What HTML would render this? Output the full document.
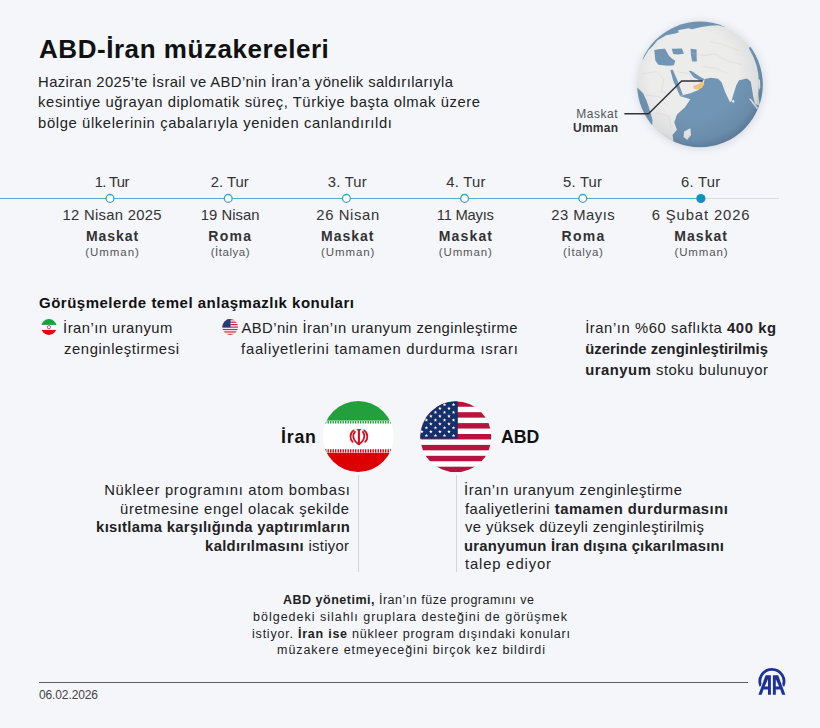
<!DOCTYPE html>
<html><head><meta charset="utf-8">
<style>
html,body{margin:0;padding:0;}
body{width:820px;height:728px;background:#f4f6fa;position:relative;overflow:hidden;font-family:"Liberation Sans",sans-serif;}
.t{position:absolute;white-space:nowrap;line-height:1;font-family:"Liberation Sans",sans-serif;}
.t b{font-weight:700;}
svg{position:absolute;overflow:visible;}
</style></head><body>
<!-- GLOBE -->
<div style="position:absolute;left:637.5px;top:22px;width:125px;height:125px;border-radius:50%;box-shadow:0 1px 7px 2px rgba(60,70,90,0.13);"></div>
<svg style="left:635px;top:20px" width="130" height="130" viewBox="0 0 728 728">
 <defs>
  <clipPath id="gc"><circle cx="364" cy="361" r="352"/></clipPath>
  <radialGradient id="gshade" cx="0.45" cy="0.42" r="0.58">
   <stop offset="0.6" stop-color="#1a2a40" stop-opacity="0"/>
   <stop offset="0.9" stop-color="#1a2a40" stop-opacity="0.08"/>
   <stop offset="1" stop-color="#1a2a40" stop-opacity="0.22"/>
  </radialGradient>
 </defs>
 <g clip-path="url(#gc)">
  <rect x="0" y="0" width="728" height="728" fill="#ececeb"/>
  <!-- arctic band -->
  <path fill="#7195b4" d="M0,0 L560,0 L510,40 L464,30 L420,32 L364,40 L325,50 L275,60 L225,75 L175,85 L150,100 L125,115 L100,145 L75,170 L45,220 L0,240 Z"/>
  <path fill="#ececeb" d="M240,57 L300,46 L318,52 L292,70 L250,76 Z"/>
  <!-- Mediterranean -->
  <path fill="#7195b4" d="M108,168 L140,162 L168,161 L180,182 L190,200 L205,214 L225,228 L218,254 L190,256 L168,255 L131,251 L114,228 Z"/>
  <!-- Black sea -->
  <path fill="#7195b4" d="M206,161 L263,160 L274,189 L240,193 L214,191 Z"/>
  <!-- Caspian -->
  <path fill="#7195b4" d="M311,161 L345,165 L346,232 L320,233 L314,200 Z"/>
  <!-- Red sea -->
  <path fill="#7195b4" d="M198,280 L212,278 L240,345 L268,418 L252,426 L214,340 Z"/>
  <!-- Persian gulf -->
  <path fill="#7195b4" d="M300,284 L316,286 L364,318 L390,332 L376,346 L330,322 Z"/>
  <!-- Indian ocean -->
  <path fill="#7195b4" d="M250,426 L310,410 L356,392 L385,359 L390,330 L425,324 L465,329 L485,349 L505,404 L522,440 L530,458 L540,456 L550,420 L567,365 L583,338 L627,327 L648,345 L656,390 L662,430 L672,470 L700,482 L728,482 L728,728 L190,728 L205,700 L215,674 L210,644 L235,614 L220,574 L235,529 L280,489 L310,444 Z"/>
  <!-- Pacific right edge -->
  <path fill="#7195b4" d="M637,155 L728,110 L728,560 L700,480 L690,420 L694,354 L690,300 L680,252 L664,209 Z"/>
  <path fill="#ececeb" d="M690,330 L700,335 L702,380 L694,392 Z M676,430 L688,428 L692,452 L682,455 Z"/>
  <!-- Atlantic left edge -->
  <path fill="#7195b4" d="M0,370 L20,385 L45,410 L62,445 L75,480 L88,525 L98,560 L96,590 L0,620 Z"/>
  <!-- Madagascar -->
  <path fill="#ececeb" d="M275,624 L310,606 L314,644 L292,670 L272,655 Z"/>
  <!-- Sri Lanka -->
  <ellipse cx="550" cy="455" rx="6" ry="9" fill="#ececeb"/>
  <!-- Sumatra -->
  <path fill="#ececeb" d="M638,440 L650,442 L692,494 L682,500 Z"/>
  <!-- Oman -->
  <path fill="#f1c27c" d="M325,369 L355,359 L380,344 L388,360 L376,380 L350,390 L330,385 Z"/>
  <!-- faint borders -->
  <g fill="none" stroke="#c9c6c2" stroke-width="2" opacity="0.8">
   <path d="M40,300 L120,290 L160,330 L150,400 L200,420 M60,420 L140,430 L180,480 M120,520 L190,540 L200,600 M300,180 L380,200 L450,190 L520,230 L600,250 M380,260 L450,270 L520,300 M420,120 L500,140 L580,170 M240,290 L300,300 L330,350"/>
  </g>
  <circle cx="364" cy="361" r="352" fill="url(#gshade)"/>
 </g>
</svg>
<!-- leader line -->
<svg style="left:0;top:0" width="820" height="728"><polyline points="624.4,113.7 648.5,113.7 681.6,81 702.5,81" fill="none" stroke="#2f3338" stroke-width="1.4"/></svg>

<!-- TIMELINE -->
<div style="position:absolute;left:0;top:197.7px;width:701px;height:1.4px;background:#5ea9c4"></div>
<div style="position:absolute;left:701px;top:197.9px;width:78px;height:1px;background:#d6dbe2"></div>
<svg style="left:0;top:0" width="820" height="728">
 <g fill="#fbfdff" stroke="#4f9cb9" stroke-width="1.3">
  <circle cx="110" cy="198.4" r="3.9"/>
  <circle cx="228.2" cy="198.4" r="3.9"/>
  <circle cx="346.4" cy="198.4" r="3.9"/>
  <circle cx="464.6" cy="198.4" r="3.9"/>
  <circle cx="582.8" cy="198.4" r="3.9"/>
 </g>
 <circle cx="700.9" cy="198.5" r="4.6" fill="#1b8dbd"/>
</svg>

<!-- MINI FLAGS -->
<svg style="left:0;top:0" width="820" height="728">
 <defs>
  <clipPath id="mi"><circle cx="48.9" cy="327" r="7.9"/></clipPath>
  <clipPath id="mu"><circle cx="230.2" cy="327" r="7.9"/></clipPath>
 </defs>
 <g clip-path="url(#mi)">
  <rect x="40" y="318" width="18" height="18" fill="#fff"/>
  <rect x="40" y="318" width="18" height="6.9" fill="#1f9e3c"/>
  <rect x="40" y="329.9" width="18" height="7" fill="#dd0a0a"/>
  <circle cx="48.9" cy="327.2" r="1.6" fill="none" stroke="#c84a6a" stroke-width="1"/>
 </g>
 <g clip-path="url(#mu)">
  <rect x="222" y="318" width="17" height="18" fill="#fff"/>
  <g fill="#c62a43">
   <rect x="222" y="319.1" width="17" height="1.25"/>
   <rect x="222" y="321.55" width="17" height="1.25"/>
   <rect x="222" y="324.0" width="17" height="1.25"/>
   <rect x="222" y="326.45" width="17" height="1.25"/>
   <rect x="222" y="328.9" width="17" height="1.25"/>
   <rect x="222" y="331.35" width="17" height="1.25"/>
   <rect x="222" y="333.8" width="17" height="1.25"/>
  </g>
  <rect x="222" y="318" width="8.5" height="9.2" fill="#2a3a78"/>
 </g>
</svg>

<!-- BIG FLAGS -->
<svg style="left:0;top:0" width="820" height="728">
 <defs>
  <clipPath id="bi"><circle cx="358.2" cy="436.5" r="35.5"/></clipPath>
  <clipPath id="bu"><circle cx="455.8" cy="436.8" r="35.5"/></clipPath>
 </defs>
 <g clip-path="url(#bi)">
  <rect x="320" y="398" width="76" height="78" fill="#fff"/>
  <rect x="320" y="398" width="76" height="22.6" fill="#23a03d"/>
  <line x1="320" y1="422.2" x2="396" y2="422.2" stroke="#23a03d" stroke-width="2.6" stroke-dasharray="1.4 1.1"/>
  <line x1="320" y1="450.8" x2="396" y2="450.8" stroke="#dc0000" stroke-width="3.2" stroke-dasharray="1.4 1.1"/>
  <rect x="320" y="452.8" width="76" height="24" fill="#dc0000"/>
  <g fill="none" stroke="#d20f1c" stroke-width="1.8" stroke-linecap="round">
   <line x1="358.9" y1="430" x2="358.9" y2="444.2" stroke-width="2.1"/>
   <path d="M355,431.8 C352.2,434.5 352.6,440.6 358.8,444.2 C365,440.6 365.4,434.5 362.8,431.8"/>
   <path d="M353.6,430.4 C349.6,433.4 349.6,439 352.6,441.8"/>
   <path d="M364.2,430.4 C368.2,433.4 368.2,439 365.2,441.8"/>
  </g>
  <line x1="356.7" y1="429.6" x2="361.1" y2="429.6" stroke="#d20f1c" stroke-width="1.1"/>
 </g>
 <g clip-path="url(#bu)">
  <rect x="418" y="399" width="76" height="76" fill="#fff"/>
  <g fill="#b8123e" id="stripes">
   <rect x="418" y="401.3" width="76" height="5.45"/>
   <rect x="418" y="412.2" width="76" height="5.45"/>
   <rect x="418" y="423.1" width="76" height="5.45"/>
   <rect x="418" y="434.0" width="76" height="5.45"/>
   <rect x="418" y="444.9" width="76" height="5.45"/>
   <rect x="418" y="455.8" width="76" height="5.45"/>
   <rect x="418" y="466.7" width="76" height="5.45"/>
  </g>
  <rect x="418" y="399" width="39.8" height="39.7" fill="#172f6b"/>
  <g fill="#ffffff"><polygon points='417.35,402.75 417.82,403.95 419.11,404.03 418.11,404.85 418.44,406.10 417.35,405.40 416.26,406.10 416.59,404.85 415.59,404.03 416.88,403.95'/><polygon points='426.40,402.75 426.87,403.95 428.16,404.03 427.16,404.85 427.49,406.10 426.40,405.40 425.31,406.10 425.64,404.85 424.64,404.03 425.93,403.95'/><polygon points='435.45,402.75 435.92,403.95 437.21,404.03 436.21,404.85 436.54,406.10 435.45,405.40 434.36,406.10 434.69,404.85 433.69,404.03 434.98,403.95'/><polygon points='444.50,402.75 444.97,403.95 446.26,404.03 445.26,404.85 445.59,406.10 444.50,405.40 443.41,406.10 443.74,404.85 442.74,404.03 444.03,403.95'/><polygon points='453.55,402.75 454.02,403.95 455.31,404.03 454.31,404.85 454.64,406.10 453.55,405.40 452.46,406.10 452.79,404.85 451.79,404.03 453.08,403.95'/><polygon points='421.80,406.62 422.27,407.82 423.56,407.90 422.56,408.72 422.89,409.97 421.80,409.27 420.71,409.97 421.04,408.72 420.04,407.90 421.33,407.82'/><polygon points='430.85,406.62 431.32,407.82 432.61,407.90 431.61,408.72 431.94,409.97 430.85,409.27 429.76,409.97 430.09,408.72 429.09,407.90 430.38,407.82'/><polygon points='439.90,406.62 440.37,407.82 441.66,407.90 440.66,408.72 440.99,409.97 439.90,409.27 438.81,409.97 439.14,408.72 438.14,407.90 439.43,407.82'/><polygon points='448.95,406.62 449.42,407.82 450.71,407.90 449.71,408.72 450.04,409.97 448.95,409.27 447.86,409.97 448.19,408.72 447.19,407.90 448.48,407.82'/><polygon points='417.35,410.49 417.82,411.69 419.11,411.77 418.11,412.59 418.44,413.84 417.35,413.14 416.26,413.84 416.59,412.59 415.59,411.77 416.88,411.69'/><polygon points='426.40,410.49 426.87,411.69 428.16,411.77 427.16,412.59 427.49,413.84 426.40,413.14 425.31,413.84 425.64,412.59 424.64,411.77 425.93,411.69'/><polygon points='435.45,410.49 435.92,411.69 437.21,411.77 436.21,412.59 436.54,413.84 435.45,413.14 434.36,413.84 434.69,412.59 433.69,411.77 434.98,411.69'/><polygon points='444.50,410.49 444.97,411.69 446.26,411.77 445.26,412.59 445.59,413.84 444.50,413.14 443.41,413.84 443.74,412.59 442.74,411.77 444.03,411.69'/><polygon points='453.55,410.49 454.02,411.69 455.31,411.77 454.31,412.59 454.64,413.84 453.55,413.14 452.46,413.84 452.79,412.59 451.79,411.77 453.08,411.69'/><polygon points='421.80,414.36 422.27,415.56 423.56,415.64 422.56,416.46 422.89,417.71 421.80,417.01 420.71,417.71 421.04,416.46 420.04,415.64 421.33,415.56'/><polygon points='430.85,414.36 431.32,415.56 432.61,415.64 431.61,416.46 431.94,417.71 430.85,417.01 429.76,417.71 430.09,416.46 429.09,415.64 430.38,415.56'/><polygon points='439.90,414.36 440.37,415.56 441.66,415.64 440.66,416.46 440.99,417.71 439.90,417.01 438.81,417.71 439.14,416.46 438.14,415.64 439.43,415.56'/><polygon points='448.95,414.36 449.42,415.56 450.71,415.64 449.71,416.46 450.04,417.71 448.95,417.01 447.86,417.71 448.19,416.46 447.19,415.64 448.48,415.56'/><polygon points='417.35,418.23 417.82,419.43 419.11,419.51 418.11,420.33 418.44,421.58 417.35,420.88 416.26,421.58 416.59,420.33 415.59,419.51 416.88,419.43'/><polygon points='426.40,418.23 426.87,419.43 428.16,419.51 427.16,420.33 427.49,421.58 426.40,420.88 425.31,421.58 425.64,420.33 424.64,419.51 425.93,419.43'/><polygon points='435.45,418.23 435.92,419.43 437.21,419.51 436.21,420.33 436.54,421.58 435.45,420.88 434.36,421.58 434.69,420.33 433.69,419.51 434.98,419.43'/><polygon points='444.50,418.23 444.97,419.43 446.26,419.51 445.26,420.33 445.59,421.58 444.50,420.88 443.41,421.58 443.74,420.33 442.74,419.51 444.03,419.43'/><polygon points='453.55,418.23 454.02,419.43 455.31,419.51 454.31,420.33 454.64,421.58 453.55,420.88 452.46,421.58 452.79,420.33 451.79,419.51 453.08,419.43'/><polygon points='421.80,422.10 422.27,423.30 423.56,423.38 422.56,424.20 422.89,425.45 421.80,424.75 420.71,425.45 421.04,424.20 420.04,423.38 421.33,423.30'/><polygon points='430.85,422.10 431.32,423.30 432.61,423.38 431.61,424.20 431.94,425.45 430.85,424.75 429.76,425.45 430.09,424.20 429.09,423.38 430.38,423.30'/><polygon points='439.90,422.10 440.37,423.30 441.66,423.38 440.66,424.20 440.99,425.45 439.90,424.75 438.81,425.45 439.14,424.20 438.14,423.38 439.43,423.30'/><polygon points='448.95,422.10 449.42,423.30 450.71,423.38 449.71,424.20 450.04,425.45 448.95,424.75 447.86,425.45 448.19,424.20 447.19,423.38 448.48,423.30'/><polygon points='417.35,425.97 417.82,427.17 419.11,427.25 418.11,428.07 418.44,429.32 417.35,428.62 416.26,429.32 416.59,428.07 415.59,427.25 416.88,427.17'/><polygon points='426.40,425.97 426.87,427.17 428.16,427.25 427.16,428.07 427.49,429.32 426.40,428.62 425.31,429.32 425.64,428.07 424.64,427.25 425.93,427.17'/><polygon points='435.45,425.97 435.92,427.17 437.21,427.25 436.21,428.07 436.54,429.32 435.45,428.62 434.36,429.32 434.69,428.07 433.69,427.25 434.98,427.17'/><polygon points='444.50,425.97 444.97,427.17 446.26,427.25 445.26,428.07 445.59,429.32 444.50,428.62 443.41,429.32 443.74,428.07 442.74,427.25 444.03,427.17'/><polygon points='453.55,425.97 454.02,427.17 455.31,427.25 454.31,428.07 454.64,429.32 453.55,428.62 452.46,429.32 452.79,428.07 451.79,427.25 453.08,427.17'/><polygon points='421.80,429.84 422.27,431.04 423.56,431.12 422.56,431.94 422.89,433.19 421.80,432.49 420.71,433.19 421.04,431.94 420.04,431.12 421.33,431.04'/><polygon points='430.85,429.84 431.32,431.04 432.61,431.12 431.61,431.94 431.94,433.19 430.85,432.49 429.76,433.19 430.09,431.94 429.09,431.12 430.38,431.04'/><polygon points='439.90,429.84 440.37,431.04 441.66,431.12 440.66,431.94 440.99,433.19 439.90,432.49 438.81,433.19 439.14,431.94 438.14,431.12 439.43,431.04'/><polygon points='448.95,429.84 449.42,431.04 450.71,431.12 449.71,431.94 450.04,433.19 448.95,432.49 447.86,433.19 448.19,431.94 447.19,431.12 448.48,431.04'/><polygon points='417.35,433.71 417.82,434.91 419.11,434.99 418.11,435.81 418.44,437.06 417.35,436.36 416.26,437.06 416.59,435.81 415.59,434.99 416.88,434.91'/><polygon points='426.40,433.71 426.87,434.91 428.16,434.99 427.16,435.81 427.49,437.06 426.40,436.36 425.31,437.06 425.64,435.81 424.64,434.99 425.93,434.91'/><polygon points='435.45,433.71 435.92,434.91 437.21,434.99 436.21,435.81 436.54,437.06 435.45,436.36 434.36,437.06 434.69,435.81 433.69,434.99 434.98,434.91'/><polygon points='444.50,433.71 444.97,434.91 446.26,434.99 445.26,435.81 445.59,437.06 444.50,436.36 443.41,437.06 443.74,435.81 442.74,434.99 444.03,434.91'/><polygon points='453.55,433.71 454.02,434.91 455.31,434.99 454.31,435.81 454.64,437.06 453.55,436.36 452.46,437.06 452.79,435.81 451.79,434.99 453.08,434.91'/></g>
 </g>
</svg>
<!-- vertical dividers -->
<div style="position:absolute;left:358px;top:475px;width:1px;height:97px;background:#d3d5da"></div>
<div style="position:absolute;left:456px;top:475px;width:1px;height:97px;background:#d3d5da"></div>

<!-- FOOTER -->
<div style="position:absolute;left:38.5px;top:681.7px;width:709.5px;height:1.1px;background:#5a5d62"></div>
<svg style="left:0;top:0" width="820" height="728">
 <path d="M760.9,686.3 A12.05,12.05 0 1 1 782.9,686.3" fill="none" stroke="#1e3296" stroke-width="2.8"/>
 <g fill="#1e3296" stroke="#f4f6fa" stroke-width="1.6" paint-order="stroke" stroke-linejoin="miter">
  <path fill-rule="evenodd" d="M758.4,694.8 L765.6,675.3 L770.9,675.3 L770.9,694.8 L768,694.8 L768,689.6 L763.5,689.6 L761.7,694.8 Z M768,679.2 L768,686.6 L764.7,686.6 Z"/>
  <path fill-rule="evenodd" d="M785.4,694.8 L778.2,675.3 L772.9,675.3 L772.9,694.8 L775.8,694.8 L775.8,689.6 L780.3,689.6 L782.1,694.8 Z M775.8,679.2 L775.8,686.6 L779.1,686.6 Z"/>
 </g>
</svg>

<!-- TEXT -->
<div class='t' style='left:39.02px;top:36.24px;font-size:26px;font-weight:700;color:#111;letter-spacing:0.546px'>ABD-İran müzakereleri</div>
<div class='t' style='left:38.11px;top:74.72px;font-size:14.8px;font-weight:400;color:#222;letter-spacing:0.391px'>Haziran 2025’te İsrail ve ABD’nin İran’a yönelik saldırılarıyla</div>
<div class='t' style='left:38.11px;top:95.12px;font-size:14.8px;font-weight:400;color:#222;letter-spacing:0.570px'>kesintiye uğrayan diplomatik süreç, Türkiye başta olmak üzere</div>
<div class='t' style='left:38.11px;top:115.52px;font-size:14.8px;font-weight:400;color:#222;letter-spacing:0.610px'>bölge ülkelerinin çabalarıyla yeniden canlandırıldı</div>
<div class='t' style='left:576.26px;top:108.39px;font-size:12px;font-weight:400;color:#555;letter-spacing:0.527px'>Maskat</div>
<div class='t' style='left:573.05px;top:121.59px;font-size:12px;font-weight:700;color:#333;letter-spacing:0.229px'>Umman</div>
<div class='t' style='left:94.72px;top:174.62px;font-size:14.8px;font-weight:400;color:#333;letter-spacing:-0.637px'>1. Tur</div>
<div class='t' style='left:62.60px;top:208.42px;font-size:14.8px;font-weight:400;color:#333;letter-spacing:0.289px'>12 Nisan 2025</div>
<div class='t' style='left:85.92px;top:228.80px;font-size:14.0px;font-weight:700;color:#333;letter-spacing:0.958px'>Maskat</div>
<div class='t' style='left:85.28px;top:247.22px;font-size:11.5px;font-weight:400;color:#555;letter-spacing:0.936px'>(Umman)</div>
<div class='t' style='left:210.66px;top:174.62px;font-size:14.8px;font-weight:400;color:#333;letter-spacing:0.035px'>2. Tur</div>
<div class='t' style='left:200.72px;top:208.42px;font-size:14.8px;font-weight:400;color:#333;letter-spacing:0.056px'>19 Nisan</div>
<div class='t' style='left:208.28px;top:228.80px;font-size:14.0px;font-weight:700;color:#333;letter-spacing:1.291px'>Roma</div>
<div class='t' style='left:210.66px;top:247.22px;font-size:11.5px;font-weight:400;color:#555;letter-spacing:0.538px'>(İtalya)</div>
<div class='t' style='left:327.85px;top:174.62px;font-size:14.8px;font-weight:400;color:#333;letter-spacing:0.211px'>3. Tur</div>
<div class='t' style='left:316.35px;top:208.42px;font-size:14.8px;font-weight:400;color:#333;letter-spacing:0.628px'>26 Nisan</div>
<div class='t' style='left:321.11px;top:228.80px;font-size:14.0px;font-weight:700;color:#333;letter-spacing:0.982px'>Maskat</div>
<div class='t' style='left:321.11px;top:247.22px;font-size:11.5px;font-weight:400;color:#555;letter-spacing:0.893px'>(Umman)</div>
<div class='t' style='left:446.13px;top:174.62px;font-size:14.8px;font-weight:400;color:#333;letter-spacing:0.307px'>4. Tur</div>
<div class='t' style='left:436.85px;top:208.42px;font-size:14.8px;font-weight:400;color:#333;letter-spacing:-0.271px'>11 Mayıs</div>
<div class='t' style='left:438.73px;top:228.80px;font-size:14.0px;font-weight:700;color:#333;letter-spacing:1.162px'>Maskat</div>
<div class='t' style='left:438.85px;top:247.22px;font-size:11.5px;font-weight:400;color:#555;letter-spacing:0.853px'>(Umman)</div>
<div class='t' style='left:563.10px;top:174.62px;font-size:14.8px;font-weight:400;color:#333;letter-spacing:0.211px'>5. Tur</div>
<div class='t' style='left:551.30px;top:208.42px;font-size:14.8px;font-weight:400;color:#333;letter-spacing:0.479px'>23 Mayıs</div>
<div class='t' style='left:561.60px;top:228.80px;font-size:14.0px;font-weight:700;color:#333;letter-spacing:1.298px'>Roma</div>
<div class='t' style='left:563.10px;top:247.22px;font-size:11.5px;font-weight:400;color:#555;letter-spacing:0.663px'>(İtalya)</div>
<div class='t' style='left:681.04px;top:174.62px;font-size:14.8px;font-weight:400;color:#333;letter-spacing:0.263px'>6. Tur</div>
<div class='t' style='left:651.72px;top:208.42px;font-size:14.8px;font-weight:400;color:#333;letter-spacing:0.887px'>6 Şubat 2026</div>
<div class='t' style='left:674.30px;top:228.80px;font-size:14.0px;font-weight:700;color:#333;letter-spacing:1.034px'>Maskat</div>
<div class='t' style='left:674.42px;top:247.22px;font-size:11.5px;font-weight:400;color:#555;letter-spacing:0.896px'>(Umman)</div>
<div class='t' style='left:39.04px;top:294.75px;font-size:15px;font-weight:700;color:#111;letter-spacing:0.498px'>Görüşmelerde temel anlaşmazlık konuları</div>
<div class='t' style='left:63.10px;top:321.22px;font-size:14.8px;font-weight:400;color:#222;letter-spacing:0.463px'>İran’ın uranyum</div>
<div class='t' style='left:64.00px;top:341.52px;font-size:14.8px;font-weight:400;color:#222;letter-spacing:0.590px'>zenginleştirmesi</div>
<div class='t' style='left:241.50px;top:321.12px;font-size:14.8px;font-weight:400;color:#222;letter-spacing:0.435px'>ABD’nin İran’ın uranyum zenginleştirme</div>
<div class='t' style='left:241.05px;top:341.62px;font-size:14.8px;font-weight:400;color:#222;letter-spacing:0.746px'>faaliyetlerini tamamen durdurma ısrarı</div>
<div class='t' style='left:585.13px;top:320.82px;font-size:14.8px;font-weight:400;color:#222;letter-spacing:0.570px'>İran’ın %60 saflıkta <b>400 kg</b></div>
<div class='t' style='left:585.13px;top:341.72px;font-size:14.8px;font-weight:400;color:#222;letter-spacing:0.077px'><b>üzerinde zenginleştirilmiş</b></div>
<div class='t' style='left:585.13px;top:362.92px;font-size:14.8px;font-weight:400;color:#222;letter-spacing:0.534px'><b>uranyum</b> stoku bulunuyor</div>
<div class='t' style='left:281.10px;top:429.17px;font-size:17.7px;font-weight:700;color:#111;letter-spacing:0.789px'>İran</div>
<div class='t' style='left:501.00px;top:429.17px;font-size:17.7px;font-weight:700;color:#111;letter-spacing:-0.084px'>ABD</div>
<div class='t' style='left:104.14px;top:482.92px;font-size:14.8px;font-weight:400;color:#222;letter-spacing:0.707px'>Nükleer programını atom bombası</div>
<div class='t' style='left:120.07px;top:501.52px;font-size:14.8px;font-weight:400;color:#222;letter-spacing:0.611px'>üretmesine engel olacak şekilde</div>
<div class='t' style='left:96.08px;top:520.12px;font-size:14.8px;font-weight:400;color:#222;letter-spacing:0.320px'><b>kısıtlama karşılığında yaptırımların</b></div>
<div class='t' style='left:205.10px;top:538.52px;font-size:14.8px;font-weight:400;color:#222;letter-spacing:0.312px'><b>kaldırılmasını</b> istiyor</div>
<div class='t' style='left:464.09px;top:483.12px;font-size:14.8px;font-weight:400;color:#222;letter-spacing:0.536px'>İran’ın uranyum zenginleştirme</div>
<div class='t' style='left:464.99px;top:501.62px;font-size:14.8px;font-weight:400;color:#222;letter-spacing:0.500px'>faaliyetlerini <b>tamamen durdurmasını</b></div>
<div class='t' style='left:464.99px;top:520.22px;font-size:14.8px;font-weight:400;color:#222;letter-spacing:0.426px'>ve yüksek düzeyli zenginleştirilmiş</div>
<div class='t' style='left:464.09px;top:538.72px;font-size:14.8px;font-weight:400;color:#222;letter-spacing:0.217px'><b>uranyumun İran dışına çıkarılmasını</b></div>
<div class='t' style='left:464.99px;top:557.22px;font-size:14.8px;font-weight:400;color:#222;letter-spacing:0.863px'>talep ediyor</div>
<div class='t' style='left:283.02px;top:594.17px;font-size:12.5px;font-weight:400;color:#222;letter-spacing:0.503px'><b>ABD yönetimi,</b> İran’ın füze programını ve</div>
<div class='t' style='left:253.09px;top:610.97px;font-size:12.5px;font-weight:400;color:#222;letter-spacing:0.987px'>bölgedeki silahlı gruplara desteğini de görüşmek</div>
<div class='t' style='left:252.07px;top:627.67px;font-size:12.5px;font-weight:400;color:#222;letter-spacing:0.769px'>istiyor. <b>İran ise</b> nükleer program dışındaki konuları</div>
<div class='t' style='left:277.09px;top:644.27px;font-size:12.5px;font-weight:400;color:#222;letter-spacing:0.913px'>müzakere etmeyeceğini birçok kez bildirdi</div>
<div class='t' style='left:39.01px;top:688.99px;font-size:12px;font-weight:400;color:#444;letter-spacing:-0.122px'>06.02.2026</div>
</body></html>
